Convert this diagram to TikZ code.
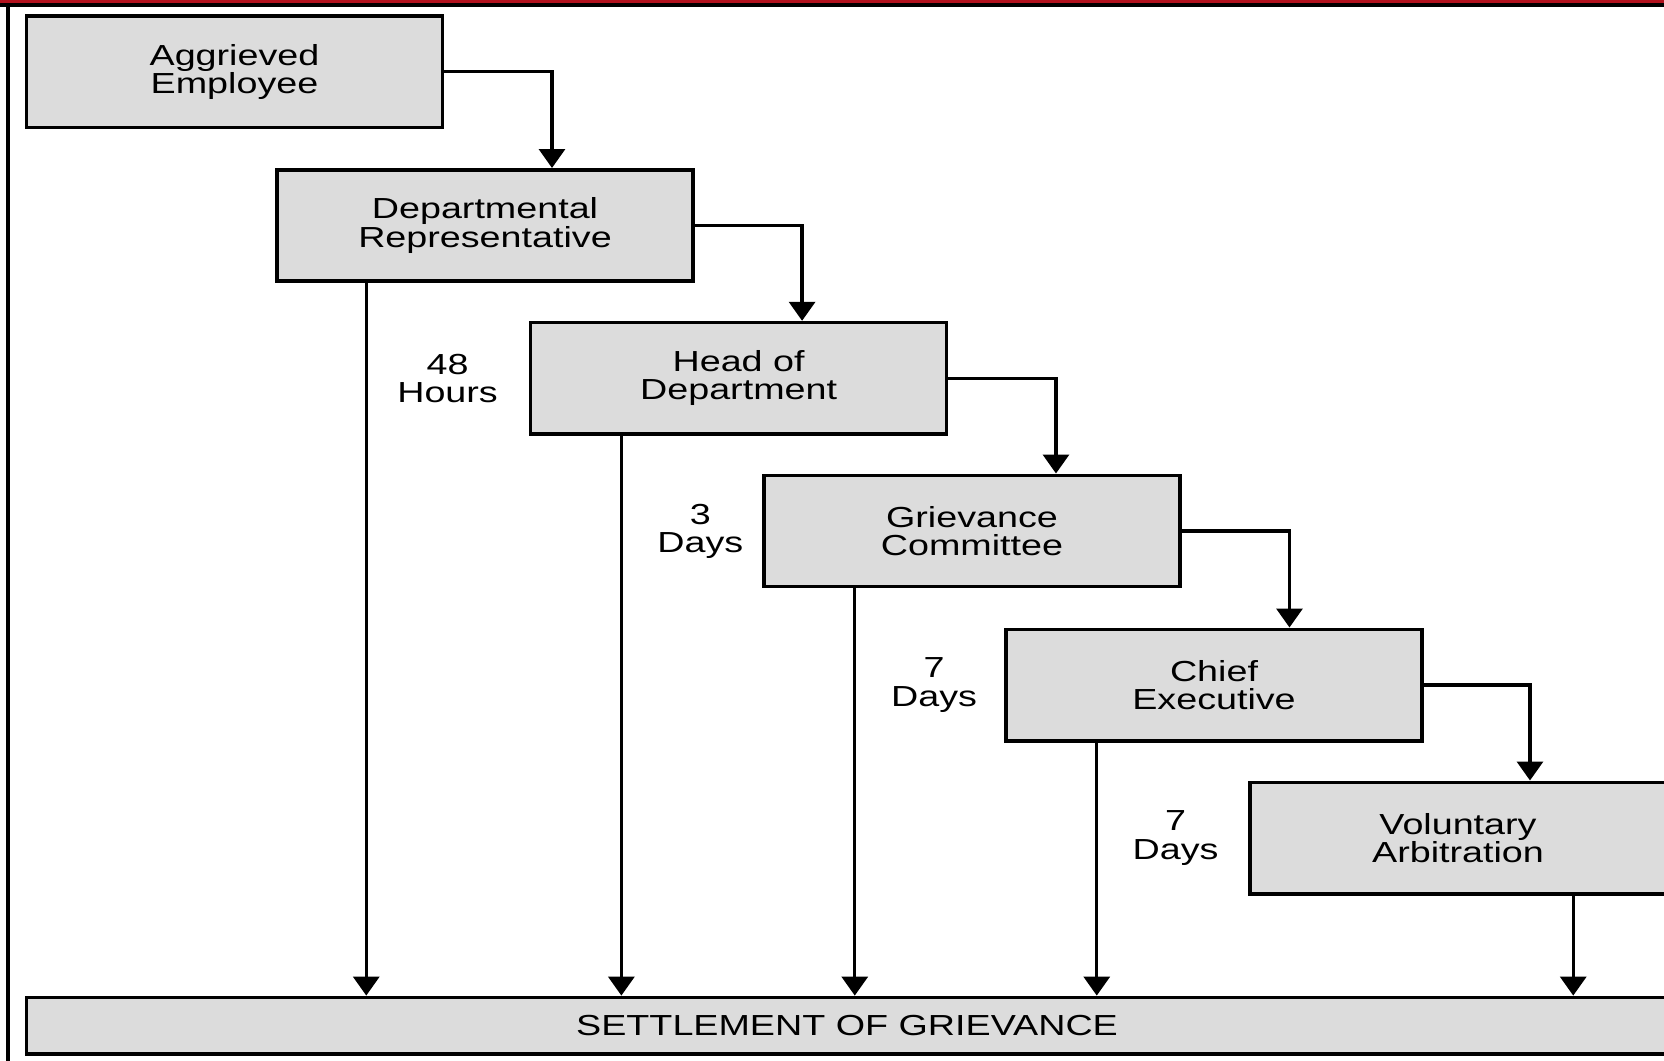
\documentclass[tikz,border=0pt]{standalone}
\usepackage{fontspec}
\setmainfont{Liberation Sans}[FakeStretch=1.3]
\usetikzlibrary{arrows.meta,calc}
\definecolor{boxgray}{RGB}{220,220,220}
\definecolor{bandred}{RGB}{178,18,30}

\begin{document}
\begin{tikzpicture}[x=0.02cm, y=-0.02cm,
        every node/.style={font=\fontsize{16.5}{16}\selectfont, align=center},
        stage/.style={draw=black, line width=2pt, fill=boxgray, minimum width=8.32cm, minimum height=2.23cm, inner sep=0pt},
        link/.style={line width=1.9pt, -{Triangle[length=0.38cm, width=0.52cm]}}]

        % Frame
        \useasboundingbox (0,0) rectangle (1664,1061);
        \fill[bandred] (0,0) rectangle (1664,4);
        \draw[line width=1.8pt] (0,5) -- (1664,5);
        \draw[line width=1.8pt] (8,5) -- (8,1061);

        % Stages
        \node[stage] (ae) at (234.5,71.6) {Aggrieved\\Employee};
        \node[stage] (dr) at (485,225.5) {Departmental\\Representative};
        \node[stage] (hd) at (738.6,378.3) {Head of\\Department};
        \node[stage] (gc) at (972,531) {Grievance\\Committee};
        \node[stage] (ce) at (1214,685) {Chief\\Executive};
        \node[stage] (va) at (1458,838) {Voluntary\\Arbitration};
        \node[stage, minimum width=32.83cm, minimum height=1.13cm] (sg) at (847,1025.6) {SETTLEMENT OF GRIEVANCE};

        % Steps up the ladder
        \draw[link] (ae.east) -| ([xshift=1.34cm]dr.north);
        \draw[link] (dr.east) -| ([xshift=1.27cm]hd.north);
        \draw[link] (hd.east) -| ([xshift=1.68cm]gc.north);
        \draw[link] (gc.east) -| ([xshift=1.51cm]ce.north);
        \draw[link] (ce.east) -| ([xshift=1.44cm]va.north);

        % Settled at each stage
        \draw[link] ([xshift=1.82cm]dr.south west) coordinate (s1) -- (s1 |- sg.north);
        \draw[link] ([xshift=1.85cm]hd.south west) coordinate (s2) -- (s2 |- sg.north);
        \draw[link] ([xshift=1.85cm]gc.south west) coordinate (s3) -- (s3 |- sg.north);
        \draw[link] ([xshift=1.85cm]ce.south west) coordinate (s4) -- (s4 |- sg.north);
        \draw[link] ([xshift=6.5cm]va.south west) coordinate (s5) -- (s5 |- sg.north);

        % Time limits
        \node (t1) at ($(s1 |- hd.west)!0.5!(hd.west)$) {48\\Hours};
        \node (t2) at ($(s2 |- gc.west)!0.56!(gc.west)$) {3\\Days};
        \node (t3) at ($(s3 |- ce.west)!0.53!(ce.west)$) {7\\Days};
        \node (t4) at ($(s4 |- va.west)!0.52!(va.west)$) {7\\Days};
    \end{tikzpicture}
\end{document}
